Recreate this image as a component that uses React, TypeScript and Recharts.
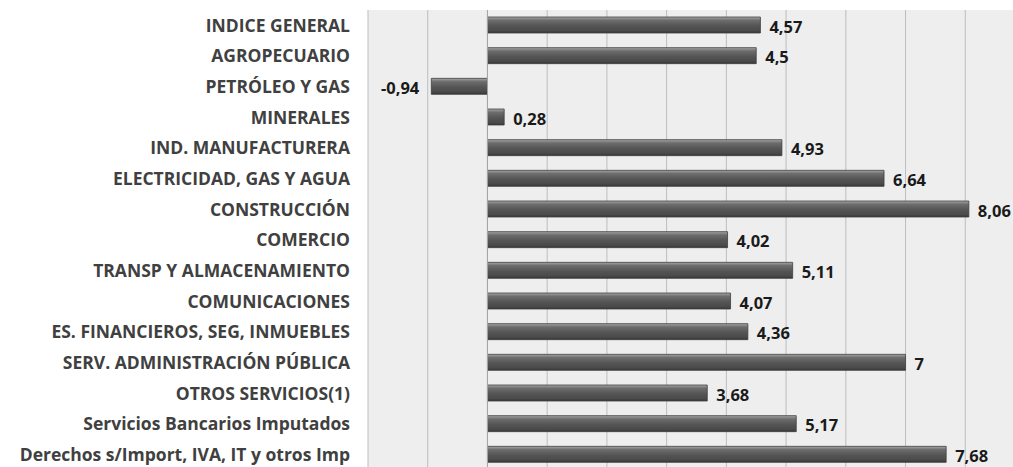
import React from "react";
import {
  BarChart,
  Bar,
  XAxis,
  YAxis,
  CartesianGrid,
  ReferenceLine,
  LabelList,
} from "recharts";

const categories = [
  "INDICE GENERAL",
  "AGROPECUARIO",
  "PETRÓLEO Y GAS",
  "MINERALES",
  "IND. MANUFACTURERA",
  "ELECTRICIDAD, GAS Y AGUA",
  "CONSTRUCCIÓN",
  "COMERCIO",
  "TRANSP Y ALMACENAMIENTO",
  "COMUNICACIONES",
  "ES. FINANCIEROS, SEG, INMUEBLES",
  "SERV. ADMINISTRACIÓN PÚBLICA",
  "OTROS SERVICIOS(1)",
  "Servicios Bancarios Imputados",
  "Derechos s/Import, IVA, IT y otros Imp",
];

const values = [4.57, 4.5, -0.94, 0.28, 4.93, 6.64, 8.06, 4.02, 5.11, 4.07, 4.36, 7, 3.68, 5.17, 7.68];

const xDomain = [-2, 9];
const xTicks = [-2, -1, 0, 1, 2, 3, 4, 5, 6, 7, 8, 9];

const data = categories.map((name, i) => ({ name, value: values[i] }));

const fmt = (v: number) => String(v).replace(".", ",");

const FONT = "'Open Sans', Lato, sans-serif";

const ValueLabel = (props: any) => {
  const { x, y, width, height, value } = props;
  const left = Math.min(x, x + width);
  const right = Math.max(x, x + width);
  const cy = y + height / 2 + 1;
  const neg = value < 0;
  return (
    <text
      x={neg ? left - 12 : right + 9}
      y={cy}
      textAnchor={neg ? "end" : "start"}
      dominantBaseline="central"
      fontFamily={FONT}
      fontWeight={700}
      fontSize={16.5}
      fill="#1a1a1a"
    >
      {fmt(value)}
    </text>
  );
};

const gridGen = (props: any) => {
  const { xAxis, offset } = props;
  const s = xAxis && xAxis.scale;
  if (typeof s === "function") return xTicks.map((t) => s(t));
  if (s && typeof s.map === "function") return xTicks.map((t) => s.map(t));
  const [d0, d1] = xDomain;
  return xTicks.map((t) => offset.left + ((t - d0) / (d1 - d0)) * offset.width);
};

export default function App() {
  return (
    <div
      style={{
        position: "absolute",
        left: 0,
        top: 0,
        width: 1013,
        height: 467,
        overflow: "hidden",
        background: "#ffffff",
      }}
    >
      <BarChart
        width={1030}
        height={480}
        data={data}
        layout="vertical"
        margin={{ top: 10, right: 5, left: 0, bottom: 10 }}
        barSize={16}
      >
        <defs>
          <linearGradient id="barGrad" x1="0" y1="0" x2="0" y2="1">
            <stop offset="0%" stopColor="#a8a8a8" />
            <stop offset="20%" stopColor="#6e6e6e" />
            <stop offset="55%" stopColor="#555555" />
            <stop offset="85%" stopColor="#4a4a4a" />
            <stop offset="100%" stopColor="#363636" />
          </linearGradient>
        </defs>
        <CartesianGrid
          horizontal={false}
          stroke="#bdbdbd"
          fill="#eeeeee"
          strokeWidth={1}
          verticalCoordinatesGenerator={gridGen}
        />
        <XAxis
          type="number"
          domain={xDomain}
          ticks={xTicks}
          tick={false}
          axisLine={false}
          tickLine={false}
          height={0}
        />
        <YAxis
          type="category"
          dataKey="name"
          width={368}
          interval={0}
          axisLine={false}
          tickLine={false}
          tickSize={0}
          tickMargin={18}
          tick={{
            fontFamily: FONT,
            fontWeight: 700,
            fontSize: 17.5,
            fill: "#404040",
          }}
        />
        <ReferenceLine x={0} stroke="#a6a6a6" strokeWidth={1} />
        <Bar
          dataKey="value"
          fill="url(#barGrad)"
          stroke="#3f3f3f"
          strokeWidth={0.8}
          isAnimationActive={false}
        >
          <LabelList dataKey="value" content={<ValueLabel />} />
        </Bar>
      </BarChart>
    </div>
  );
}
